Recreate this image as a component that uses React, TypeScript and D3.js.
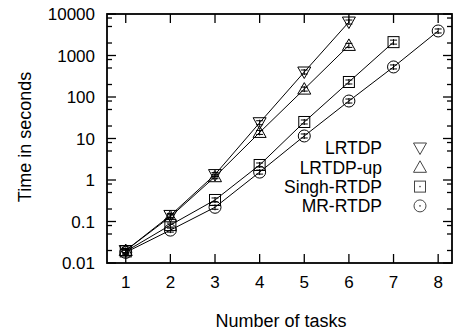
import React from "react";
import * as d3 from "d3";

const tasks = [1, 2, 3, 4, 5, 6, 7, 8];
const lrtdp = [0.02, 0.14, 1.35, 24, 400, 6400];
const lrtdpUp = [0.02, 0.13, 1.2, 14, 155, 1750];
const singh = [0.019, 0.082, 0.33, 2.3, 25, 230, 2100];
const mr = [0.018, 0.062, 0.22, 1.55, 11.5, 80, 530, 3900];
const yTicks = [0.01, 0.1, 1, 10, 100, 1000, 10000];
const yTickLabels = ["0.01", "0.1", "1", "10", "100", "1000", "10000"];
const seriesNames = ["LRTDP", "LRTDP-up", "Singh-RTDP", "MR-RTDP"];

const W = 455;
const H = 333;
const left = 107, right = 452, top = 14, bottom = 263;
const font = "'Liberation Sans', Arial, Helvetica, sans-serif";

const x = d3.scaleLinear().domain([0.58, 8.31]).range([left, right]);
const y = d3.scaleLog().domain([0.01, 10000]).range([bottom, top]);

type Shape = "down" | "up" | "square" | "circle";

const Marker = ({ cx, cy, shape, color = "#000", dot = false, bar = true }:
  { cx: number; cy: number; shape: Shape; color?: string; dot?: boolean; bar?: boolean }) => {
  let glyph;
  if (shape === "down") {
    glyph = <path d={`M${cx - 6.5},${cy - 5} L${cx + 6.5},${cy - 5} L${cx},${cy + 6.5} Z`} />;
  } else if (shape === "up") {
    glyph = <path d={`M${cx - 6.5},${cy + 5} L${cx + 6.5},${cy + 5} L${cx},${cy - 6.5} Z`} />;
  } else if (shape === "square") {
    glyph = <rect x={cx - 5.5} y={cy - 5.5} width={11} height={11} />;
  } else {
    glyph = <circle cx={cx} cy={cy} r={6} />;
  }
  return (
    <g fill="none" stroke={color} strokeWidth={1}>
      {glyph}
      {bar && (
        <g>
          <line x1={cx} x2={cx} y1={cy - 3} y2={cy + 3} />
          <line x1={cx - 3.5} x2={cx + 3.5} y1={cy - 2} y2={cy - 2} />
          <line x1={cx - 3.5} x2={cx + 3.5} y1={cy + 2} y2={cy + 2} />
        </g>
      )}
      {dot && <circle cx={cx} cy={cy} r={0.8} fill={color} stroke="none" />}
    </g>
  );
};

const App = () => {
  const series: { name: string; values: number[]; shape: Shape }[] = [
    { name: seriesNames[0], values: lrtdp, shape: "down" },
    { name: seriesNames[1], values: lrtdpUp, shape: "up" },
    { name: seriesNames[2], values: singh, shape: "square" },
    { name: seriesNames[3], values: mr, shape: "circle" },
  ];
  const line = d3.line<number>().x((_, i) => x(tasks[i])).y((d) => y(d));

  // minor ticks at 2, 5, 8 per decade
  const minor: number[] = [];
  for (let e = -2; e < 4; e++) {
    [2, 5, 8].forEach((m) => minor.push(m * Math.pow(10, e)));
  }

  return (
    <svg width={W} height={H} style={{ position: "absolute", left: 0, top: 0 }} fontFamily={font}>
      <rect width={W} height={H} fill="#fff" />
      {/* ticks */}
      <g stroke="#000" strokeWidth={1.3}>
        {yTicks.map((t) => (
          <g key={"y" + t}>
            <line x1={left} x2={left + 9} y1={y(t)} y2={y(t)} />
            <line x1={right} x2={right - 9} y1={y(t)} y2={y(t)} />
          </g>
        ))}
        {minor.map((t) => (
          <g key={"m" + t}>
            <line x1={left} x2={left + 5} y1={y(t)} y2={y(t)} />
            <line x1={right} x2={right - 5} y1={y(t)} y2={y(t)} />
          </g>
        ))}
        {tasks.map((t) => (
          <g key={"x" + t}>
            <line x1={x(t)} x2={x(t)} y1={bottom} y2={bottom - 9} />
            <line x1={x(t)} x2={x(t)} y1={top} y2={top + 9} />
          </g>
        ))}
      </g>
      <rect x={left} y={top} width={right - left} height={bottom - top} fill="none" stroke="#000" strokeWidth={1.8} />
      {/* tick labels */}
      <g fontSize={17} fill="#000">
        {yTicks.map((t, i) => (
          <text key={t} x={95} y={y(t)} dy="0.36em" textAnchor="end">{yTickLabels[i]}</text>
        ))}
        {tasks.map((t) => (
          <text key={t} x={x(t)} y={288} textAnchor="middle">{t}</text>
        ))}
      </g>
      <text x={281} y={327} textAnchor="middle" fontSize={18} fill="#000">Number of tasks</text>
      <text transform={`translate(31,137) rotate(-90)`} textAnchor="middle" fontSize={18} fill="#000">Time in seconds</text>
      {/* series */}
      {series.map((s) => (
        <g key={s.name}>
          <path d={line(s.values) || ""} fill="none" stroke="#000" strokeWidth={1} />
          {s.values.map((v, i) => (
            <Marker key={i} cx={x(tasks[i])} cy={y(v)} shape={s.shape} />
          ))}
        </g>
      ))}
      {/* legend */}
      <g fontSize={17.5} fill="#000">
        {series.map((s, i) => (
          <g key={s.name}>
            <text x={382} y={148 + i * 19.3} dy="0.36em" textAnchor="end">{s.name}</text>
            <Marker cx={420} cy={148 + i * 19.3} shape={s.shape} color="#444" bar={false} dot={s.shape === "square" || s.shape === "circle"} />
          </g>
        ))}
      </g>
    </svg>
  );
};

export default App;
